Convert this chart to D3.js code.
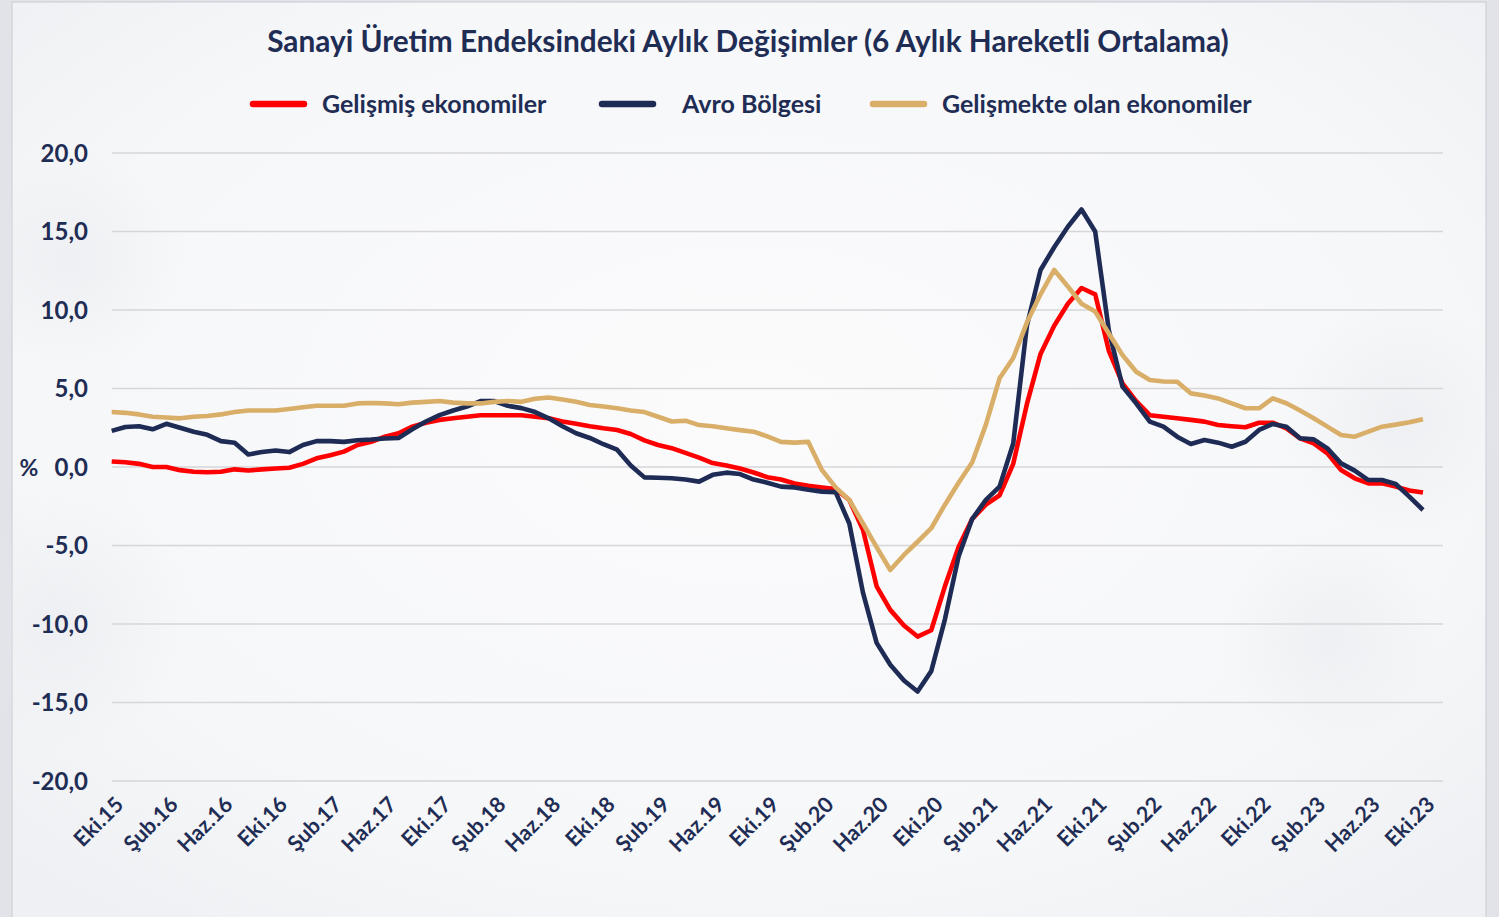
<!DOCTYPE html>
<html>
<head>
<meta charset="utf-8">
<script src="https://cdn.jsdelivr.net/npm/d3@7"></script>
<style>
  html, body { margin: 0; padding: 0; background: #e6e8ed; }
  svg { display: block; }
</style>
</head>
<body>
<div id="chart"></div>
<script>
// Aylık kategoriler: Eki.15 - Eki.23
const monthNames = ["Oca", "Şub", "Mar", "Nis", "May", "Haz", "Tem", "Ağu", "Eyl", "Eki", "Kas", "Ara"];
const startYear = 2015, startMonth = 9, monthCount = 97;

const seriesNames = ["Gelişmiş ekonomiler", "Avro Bölgesi", "Gelişmekte olan ekonomiler"];
const seriesColors = ["#ff0000", "#1e2b55", "#d9ae68"];

const gelismis = [
  0.35, 0.3, 0.2, 0.0, 0.0, -0.2, -0.3, -0.33, -0.3, -0.15,
  -0.22, -0.15, -0.1, -0.05, 0.2, 0.55, 0.75, 0.98, 1.4, 1.6,
  1.93, 2.15, 2.57, 2.82, 3.0, 3.1, 3.2, 3.3, 3.3, 3.3,
  3.3, 3.2, 3.1, 2.9, 2.75, 2.6, 2.47, 2.36, 2.1, 1.7,
  1.4, 1.2, 0.9, 0.6, 0.25, 0.1, -0.1, -0.35, -0.65, -0.8,
  -1.05, -1.2, -1.3, -1.4, -2.1, -4.0, -7.6, -9.1, -10.1, -10.8,
  -10.4, -7.6, -5.1, -3.3, -2.4, -1.8, 0.2, 4.0, 7.2, 9.0,
  10.4, 11.4, 11.0, 7.4, 5.33, 4.2, 3.3, 3.2, 3.1, 3.0,
  2.89, 2.68, 2.6, 2.53, 2.82, 2.82, 2.46, 1.82, 1.5, 0.87,
  -0.19, -0.72, -1.04, -1.04, -1.25, -1.5, -1.63
];

const avroBolgesi = [
  2.3, 2.55, 2.6, 2.4, 2.75, 2.5, 2.25, 2.05, 1.65, 1.55,
  0.8, 0.95, 1.05, 0.95, 1.4, 1.65, 1.65, 1.6, 1.7, 1.75,
  1.82, 1.85, 2.4, 2.9, 3.3, 3.6, 3.85, 4.2, 4.2, 3.9,
  3.75, 3.5, 3.1, 2.6, 2.15, 1.85, 1.45, 1.1, 0.1, -0.66,
  -0.68, -0.72, -0.8, -0.93, -0.5, -0.36, -0.45, -0.8, -1.0, -1.25,
  -1.3, -1.45, -1.57, -1.6, -3.6, -8.0, -11.2, -12.6, -13.6, -14.3,
  -13.0, -9.7, -5.7, -3.3, -2.1, -1.25, 1.5, 9.0, 12.55, 14.0,
  15.3, 16.4, 15.0, 8.7, 5.12, 4.06, 2.89, 2.57, 1.93, 1.47,
  1.72, 1.55, 1.29, 1.61, 2.36, 2.74, 2.57, 1.83, 1.76, 1.19,
  0.23, -0.23, -0.83, -0.83, -1.08, -1.89, -2.74
];

const gelismekte = [
  3.5, 3.45, 3.35, 3.2, 3.15, 3.1, 3.2, 3.25, 3.35, 3.5,
  3.6, 3.6, 3.6, 3.7, 3.8, 3.9, 3.9, 3.9, 4.05, 4.08,
  4.05, 4.0, 4.1, 4.15, 4.2, 4.1, 4.05, 4.05, 4.15, 4.2,
  4.15, 4.35, 4.43, 4.3, 4.15, 3.95, 3.85, 3.74, 3.6, 3.5,
  3.2, 2.9, 2.95, 2.67, 2.6, 2.47, 2.35, 2.25, 1.95, 1.6,
  1.55, 1.6, -0.2, -1.3, -2.1, -3.6, -5.1, -6.56, -5.6, -4.76,
  -3.9, -2.4, -1.0, 0.3, 2.7, 5.65, 6.94, 9.2, 11.0, 12.55,
  11.5, 10.4, 9.9, 8.5, 7.13, 6.07, 5.54, 5.45, 5.43, 4.69,
  4.55, 4.37, 4.05, 3.74, 3.74, 4.37, 4.06, 3.6, 3.1, 2.57,
  2.04, 1.93, 2.25, 2.57, 2.7, 2.85, 3.04
];

const yTicks = [20, 15, 10, 5, 0, -5, -10, -15, -20];
const tickEvery = 4;

const width = 1499, height = 917;
const navy = "#1f2d55";
const font = "Lato, 'Open Sans', sans-serif";

const categories = d3.range(monthCount).map(i => {
  const m = (startMonth + i) % 12;
  const y = startYear + Math.floor((startMonth + i) / 12);
  return monthNames[m] + "." + String(y).slice(2);
});
const series = [gelismis, avroBolgesi, gelismekte];

const svg = d3.select("#chart").append("svg")
  .attr("width", width)
  .attr("height", height)
  .attr("viewBox", `0 0 ${width} ${height}`);

// arka plan
const defs = svg.append("defs");
const bgGrad = defs.append("radialGradient").attr("id", "bgGrad")
  .attr("cx", "50%").attr("cy", "45%").attr("r", "70%");
bgGrad.append("stop").attr("offset", "0%").attr("stop-color", "#fbfbfc");
bgGrad.append("stop").attr("offset", "70%").attr("stop-color", "#f6f7f9");
bgGrad.append("stop").attr("offset", "100%").attr("stop-color", "#eef0f3");

const shade = defs.append("radialGradient").attr("id", "shade");
shade.append("stop").attr("offset", "0%").attr("stop-color", "#e6e8ec").attr("stop-opacity", 0.5);
shade.append("stop").attr("offset", "100%").attr("stop-color", "#e6e8ec").attr("stop-opacity", 0);

svg.append("rect").attr("width", width).attr("height", height).attr("fill", "#e1e3e9");
svg.append("rect")
  .attr("x", 12).attr("y", 2).attr("width", 1474).attr("height", height + 5)
  .attr("fill", "url(#bgGrad)")
  .attr("stroke", "#cfd1d6").attr("stroke-width", 1.2);

const blobs = [[70, 260, 110], [60, 620, 130], [1400, 420, 120], [1330, 640, 110]];
svg.append("g").selectAll("circle").data(blobs).join("circle")
  .attr("cx", d => d[0]).attr("cy", d => d[1]).attr("r", d => d[2])
  .attr("fill", "url(#shade)");

// ölçekler
const x = d3.scalePoint().domain(categories).range([111.7, 1423]);
const y = d3.scaleLinear().domain([-20, 20]).range([781, 153]);
const gridRight = 1443;

// ızgara
svg.append("g").selectAll("line").data(yTicks).join("line")
  .attr("x1", 112).attr("x2", gridRight)
  .attr("y1", d => y(d)).attr("y2", d => y(d))
  .attr("stroke", "#d6d6d8").attr("stroke-width", 1.6);

// y ekseni etiketleri
const fmt = v => d3.format(".1f")(v).replace(".", ",").replace("−", "-");
svg.append("g").selectAll("text").data(yTicks).join("text")
  .attr("x", 88).attr("y", d => y(d) + 8.5)
  .attr("text-anchor", "end")
  .attr("font-family", font)
  .attr("font-weight", 700).attr("font-size", 24)
  .attr("fill", navy)
  .text(d => fmt(d));

svg.append("text")
  .attr("x", 29).attr("y", y(0) + 9)
  .attr("text-anchor", "middle")
  .attr("font-family", font)
  .attr("font-weight", 700).attr("font-size", 23)
  .attr("fill", navy)
  .text("%");

// x ekseni etiketleri
const tickCats = categories.filter((c, i) => i % tickEvery === 0);
svg.append("g").selectAll("text").data(tickCats).join("text")
  .attr("transform", d => `translate(${x(d) + 13},${806}) rotate(-45)`)
  .attr("text-anchor", "end")
  .attr("font-family", font)
  .attr("font-weight", 700).attr("font-size", 21.5)
  .attr("fill", navy)
  .text(d => d);

// çizgiler
const line = d3.line()
  .x((d, i) => x(categories[i]))
  .y(d => y(d));

svg.append("g").selectAll("path").data(series).join("path")
  .attr("d", d => line(d))
  .attr("fill", "none")
  .attr("stroke", (d, i) => seriesColors[i])
  .attr("stroke-width", 4.6)
  .attr("stroke-linejoin", "round");

// başlık
svg.append("text")
  .attr("x", 748).attr("y", 52)
  .attr("text-anchor", "middle")
  .attr("font-family", font)
  .attr("font-weight", 700).attr("font-size", 29.8)
  .attr("fill", navy)
  .text("Sanayi Üretim Endeksindeki Aylık Değişimler (6 Aylık Hareketli Ortalama)");

// gösterge
const legendX = [251, 600, 871];
const legendTextX = [71, 82, 71];
const legend = svg.append("g").selectAll("g").data(seriesNames).join("g")
  .attr("transform", (d, i) => `translate(${legendX[i]},104)`);
legend.append("line")
  .attr("x1", 2).attr("x2", 53).attr("y1", 0).attr("y2", 0)
  .attr("stroke", (d, i) => seriesColors[i])
  .attr("stroke-width", 6.5).attr("stroke-linecap", "round");
legend.append("text")
  .attr("x", (d, i) => legendTextX[i]).attr("y", 9)
  .attr("font-family", font)
  .attr("font-weight", 700).attr("font-size", 25)
  .attr("fill", navy)
  .text(d => d);
</script>
</body>
</html>
